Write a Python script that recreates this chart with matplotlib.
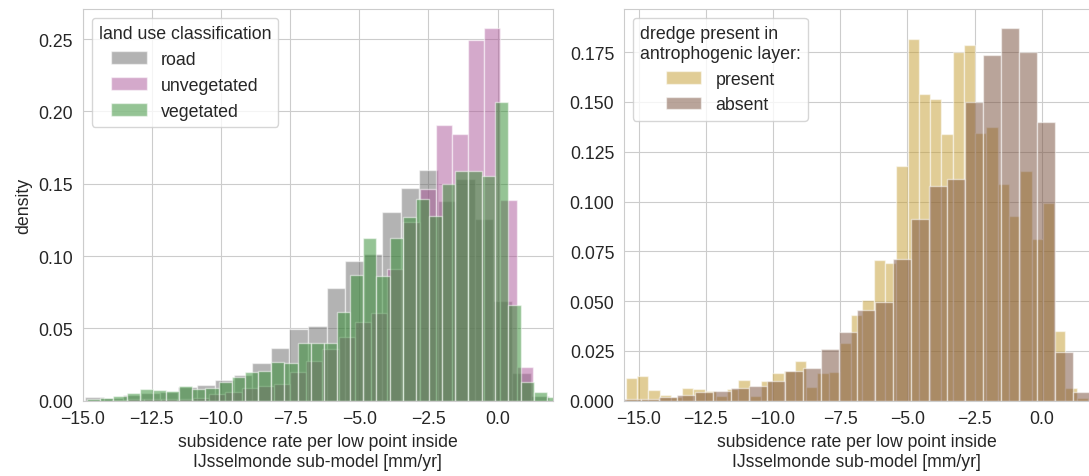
import matplotlib
matplotlib.use('Agg')

import matplotlib.pyplot as plt
from matplotlib.ticker import MultipleLocator
import numpy as np
import seaborn as sns

sns.set_style('whitegrid')
plt.rcParams['font.family'] = ['Liberation Sans', 'DejaVu Sans']
plt.rcParams['font.size'] = 12.8

# histogram densities per land use class (bin start, bin width, densities)
road_start, road_width = -14.90, 0.6704
road_density = [0.0024, 0.002, 0.004, 0.005, 0.006, 0.0095, 0.0109, 0.0143,
                0.0175, 0.0261, 0.0365, 0.0492, 0.0515, 0.078, 0.0963, 0.1016,
                0.1305, 0.147, 0.1598, 0.1378, 0.1535, 0.1258, 0.0692, 0.019,
                0.0035, 0.0005]

unveg_start, unveg_width = -13.935, 0.5848
unveg_density = [0.0005, 0.0008, 0.001, 0.0012, 0.0014, 0.0017, 0.0046, 0.0058,
                 0.0086, 0.0104, 0.0116, 0.0197, 0.0277, 0.0358, 0.0439, 0.0547,
                 0.0605, 0.0907, 0.1235, 0.1466, 0.1904, 0.1847, 0.2493, 0.2579,
                 0.139, 0.0231]

veg_start, veg_width = -14.838, 0.4753
veg_density = [0.0012, 0.0019, 0.003, 0.0051, 0.0081, 0.0074, 0.0065, 0.0104,
               0.0081, 0.0088, 0.0127, 0.0166, 0.0197, 0.0208, 0.027, 0.0261,
               0.040, 0.040, 0.040, 0.0612, 0.087, 0.1125, 0.0859, 0.1127,
               0.127, 0.1392, 0.1277, 0.150, 0.1586, 0.1586, 0.1551, 0.2067,
               0.0658, 0.0132, 0.0058, 0.0028]

# histogram densities for dredge in the anthropogenic layer
present_start, present_width = -15.485, 0.4196
present_density = [0.0113, 0.0126, 0.0055, 0.0029, 0.002, 0.0064, 0.0059, 0.005,
                   0.0025, 0.0059, 0.0105, 0.0022, 0.0098, 0.0138, 0.0148, 0.0201,
                   0.007, 0.0139, 0.0146, 0.029, 0.0428, 0.0503, 0.0704, 0.0691,
                   0.118, 0.1814, 0.1538, 0.1513, 0.1338, 0.1753, 0.1786, 0.1342,
                   0.1372, 0.109, 0.0926, 0.1152, 0.081, 0.0995, 0.0352, 0.0064,
                   0.0014]

absent_start, absent_width = -15.60, 0.671
absent_density = [0.0008, 0.001, 0.0017, 0.0029, 0.0042, 0.0049, 0.0062, 0.0075,
                  0.0101, 0.0151, 0.0163, 0.026, 0.0347, 0.0456, 0.0495, 0.0713,
                  0.0914, 0.1078, 0.1112, 0.150, 0.1735, 0.1873, 0.1749, 0.140,
                  0.0243, 0.0042]

xlabel = 'subsidence rate per low point inside\nIJsselmonde sub-model [mm/yr]'


def draw_hist(ax, start, width, density, color, label):
    left = start + width * np.arange(len(density))
    return ax.bar(left, density, width=width, align='edge', color=color,
                  alpha=0.5, edgecolor='white', linewidth=1, label=label)


fig = plt.figure(figsize=(10.89, 4.77), dpi=100)
ax1 = fig.add_axes([0.0759, 0.158, 0.4319, 0.821])
ax2 = fig.add_axes([0.573, 0.158, 0.427, 0.821])

draw_hist(ax1, road_start, road_width, road_density, '#696969', 'road')
draw_hist(ax1, unveg_start, unveg_width, unveg_density, '#ab5598', 'unvegetated')
draw_hist(ax1, veg_start, veg_width, veg_density, '#2d8b2d', 'vegetated')
ax1.set_xlim(-15, 2)
ax1.set_ylabel('density')
ax1.legend(title='land use classification', loc='upper left', fontsize=12.8,
           title_fontsize=12.8)

draw_hist(ax2, present_start, present_width, present_density, '#c59d2f', 'present')
draw_hist(ax2, absent_start, absent_width, absent_density, '#754b37', 'absent')
ax2.set_xlim(-15.55, 1.76)
ax2.spines['right'].set_visible(False)
ax2.legend(title='dredge present in\nantrophogenic layer:', loc='upper left',
           fontsize=12.8, title_fontsize=12.8)

for ax in (ax1, ax2):
    ax.xaxis.set_major_locator(MultipleLocator(2.5))
    ax.tick_params(labelsize=12.7)
    ax.set_xlabel(xlabel, fontsize=12.7)

plt.savefig('out.png', dpi=100)
